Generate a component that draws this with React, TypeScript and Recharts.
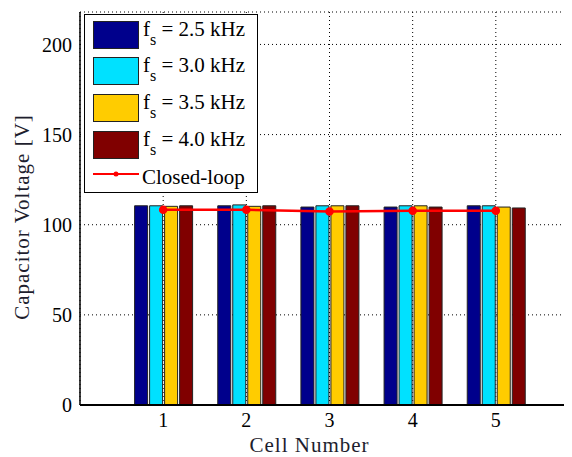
import React from "react"
import { ComposedChart, Bar, Line, XAxis, YAxis, CartesianGrid, Label } from "recharts"

const cells = ["1", "2", "3", "4", "5"]
const fs25 = [110.5, 110.5, 109.8, 109.8, 110.5]
const fs30 = [110.5, 111.0, 110.5, 110.5, 110.5]
const fs35 = [110.2, 110.2, 110.5, 110.5, 109.8]
const fs40 = [110.5, 110.5, 110.5, 109.8, 109.3]
const closedLoop = [108.3, 108.3, 107.4, 107.8, 107.8]
const yTicks = [0, 50, 100, 150, 200]

const seriesNames = ["2.5", "3.0", "3.5", "4.0"]
const seriesColors = ["#00008C", "#00E1FF", "#FFCC00", "#800000"]

const data = cells.map((c, i) => ({
  cell: c,
  fs25: fs25[i],
  fs30: fs30[i],
  fs35: fs35[i],
  fs40: fs40[i],
  closed: closedLoop[i],
}))

const FONT = "'Liberation Serif', 'Times New Roman', serif"

const LegendBox = () => (
  <div
    style={{
      position: "absolute",
      left: 76,
      top: 6,
      width: 174,
      height: 179,
      border: "1.5px solid #000",
      background: "#fff",
      boxSizing: "border-box",
      fontFamily: FONT,
      fontSize: 21,
      lineHeight: "21px",
      color: "#000",
    }}
  >
    {seriesNames.map((n, i) => (
      <div key={n} style={{ position: "absolute", left: 8, top: 5.5 + i * 36.7 }}>
        <div
          style={{
            position: "absolute",
            left: 0,
            top: 0,
            width: 46,
            height: 28,
            background: seriesColors[i],
            border: "1px solid #222",
            boxSizing: "border-box",
          }}
        />
        <div style={{ position: "absolute", left: 50, top: -2, whiteSpace: "nowrap" }}>
          f
          <span style={{ fontSize: 16, position: "relative", top: 9 }}>s</span>
          {` = ${n} kHz`}
        </div>
      </div>
    ))}
    <svg style={{ position: "absolute", left: 8, top: 154 }} width={46} height={10}>
      <line x1={0} y1={5} x2={46} y2={5} stroke="#ff0000" strokeWidth={2} />
      <circle cx={23} cy={5} r={2.5} fill="#ff0000" />
    </svg>
    <div style={{ position: "absolute", left: 57, top: 151.5, whiteSpace: "nowrap" }}>Closed-loop</div>
  </div>
)

const YLabel = (props: any) => {
  const { viewBox } = props
  const cx = viewBox.x + 14
  const cy = viewBox.y + viewBox.height / 2 + 8.5
  return (
    <text
      x={cx}
      y={cy}
      transform={`rotate(-90, ${cx}, ${cy})`}
      textAnchor="middle"
      dominantBaseline="central"
      fontFamily={FONT}
      fontSize={21}
      letterSpacing={1}
      fill="#1e1e2e"
    >
      Capacitor Voltage [V]
    </text>
  )
}

export default function App() {
  return (
    <div style={{ position: "relative", width: 564, height: 449, overflow: "hidden" }}>
      <ComposedChart
        width={600}
        height={449}
        data={data}
        margin={{ top: 4, right: 29, left: 0, bottom: 0 }}
        barGap={2}
        barSize={13}
      >
        <CartesianGrid strokeDasharray="1 3" stroke="#000" />
        <XAxis
          dataKey="cell"
          padding={{ left: 41.6, right: 41.6 }}
          height={52}
          axisLine={{ stroke: "#000", strokeWidth: 2 }}
          tickLine={false}
          tick={{ fill: "#000", fontSize: 20, fontFamily: FONT }}
        >
          <Label
            value="Cell Number"
            position="insideBottom"
            offset={5}
            dx={-20}
            style={{ fill: "#1e1e2e", fontSize: 21, fontFamily: FONT, letterSpacing: 1 }}
          />
        </XAxis>
        <XAxis
          xAxisId="top"
          dataKey="cell"
          orientation="top"
          height={0}
          padding={{ left: 41.6, right: 41.6 }}
          axisLine={{ stroke: "#000", strokeWidth: 1.5 }}
          tickLine={false}
          tick={false}
        />
        <YAxis
          width={72}
          domain={[0, 218]}
          ticks={yTicks}
          allowDataOverflow
          axisLine={{ stroke: "#000", strokeWidth: 1.5 }}
          tickLine={false}
          tick={{ fill: "#000", fontSize: 20, fontFamily: FONT }}
          label={<YLabel />}
        />
        <Bar dataKey="fs25" fill={seriesColors[0]} stroke="#222" strokeWidth={1} isAnimationActive={false} />
        <Bar dataKey="fs30" fill={seriesColors[1]} stroke="#222" strokeWidth={1} isAnimationActive={false} />
        <Bar dataKey="fs35" fill={seriesColors[2]} stroke="#222" strokeWidth={1} isAnimationActive={false} />
        <Bar dataKey="fs40" fill={seriesColors[3]} stroke="#222" strokeWidth={1} isAnimationActive={false} />
        <Line
          dataKey="closed"
          stroke="#ff0000"
          strokeWidth={2.5}
          dot={{ r: 3, fill: "#ff0000", stroke: "#ff0000" }}
          isAnimationActive={false}
        />
      </ComposedChart>
      <LegendBox />
    </div>
  )
}
